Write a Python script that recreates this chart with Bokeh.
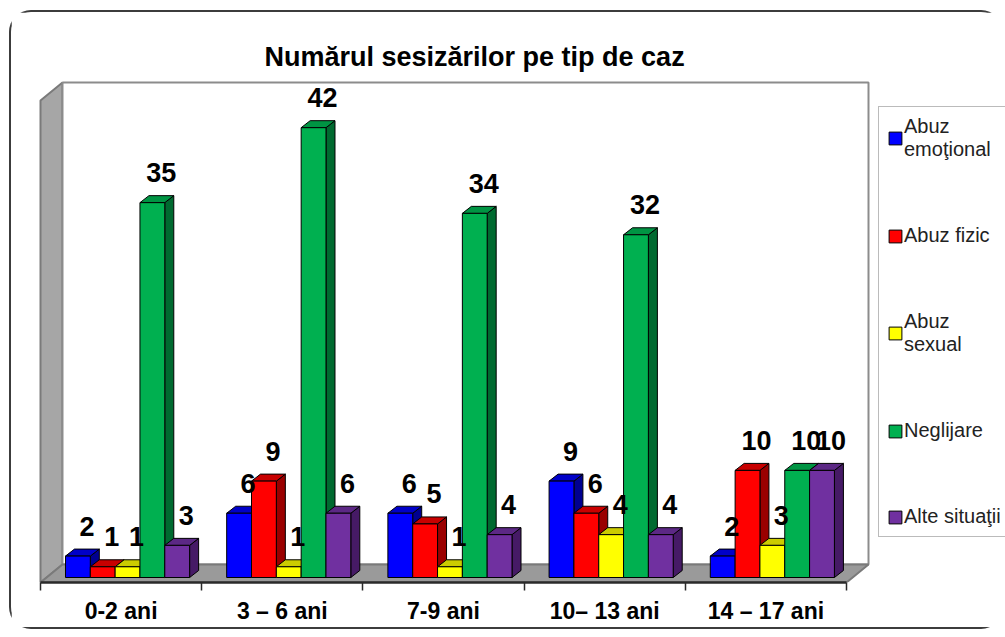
import numpy as np
from bokeh.plotting import figure
from bokeh.models import Range1d, FixedTicker, Legend, LegendItem
from bokeh.embed import file_html
from bokeh.resources import INLINE
from bokeh.core.properties import value

# ---------------- data ----------------
chart_title = "Numărul sesizărilor pe tip de caz"
groups = ["0-2 ani", "3 – 6 ani", "7-9 ani", "10– 13 ani", "14 – 17 ani"]
series_names = ["Abuz\nemoţional", "Abuz fizic", "Abuz\nsexual", "Neglijare", "Alte situaţii"]
abuz_emotional = [2, 6, 6, 9, 2]
abuz_fizic = [1, 9, 5, 6, 10]
abuz_sexual = [1, 1, 1, 4, 3]
neglijare = [35, 42, 34, 32, 10]
alte_situatii = [3, 6, 4, 4, 10]
series_values = [abuz_emotional, abuz_fizic, abuz_sexual, neglijare, alte_situatii]

# ---------------- styles ----------------
front_colors = ["#0000FF", "#FF0000", "#FFFF00", "#00B050", "#7030A0"]
top_colors = ["#0000C8", "#C80000", "#CCCC00", "#009443", "#5C2885"]
side_colors = ["#000090", "#9A0000", "#A3A300", "#006A30", "#461A66"]

PX_X = 161.2      # pixels per category unit
PX_Y = 10.71      # pixels per value unit
BAR_W = 0.154
BAR_PAD = 0.155
BDX, BDY = 9 / PX_X, 7 / PX_Y          # bar depth
WDX, WDY = 22 / PX_X, 18 / PX_Y        # wall depth
Y0 = -5 / PX_Y                         # floor front edge
AXIS_MAX = 45

FIG_W, FIG_H = 994, 619
ML, MT, MB = 27, 68, 49
X_START = -0.5 - 2 / PX_X
x_end = X_START + (FIG_W - ML) / PX_X
y_end = Y0 + (FIG_H - MT - MB) / PX_Y

p = figure(width=FIG_W, height=FIG_H,
           x_range=Range1d(X_START, x_end), y_range=Range1d(Y0, y_end),
           output_backend="svg", toolbar_location=None, y_axis_location=None,
           min_border_left=ML, min_border_right=0, min_border_top=MT, min_border_bottom=MB,
           outline_line_color=None, background_fill_color="white", border_fill_color="white")
p.styles = {"border": "2px solid #3c3c3c", "border-right": "none", "border-radius": "22px",
            "margin-left": "9px", "margin-top": "10px"}
p.grid.visible = False

# title
p.title.text = chart_title
p.title.align = "left"
p.title.text_font = "Liberation Sans"
p.title.text_font_style = "bold"
p.title.text_font_size = "27px"
p.title.text_color = "black"
p.title.offset = 226
p.title.standoff = 18

# ---------------- walls ----------------
n = len(groups)
xl, xr = -0.5, n - 0.5
wall_xs = [
    [xl, xl, xl + WDX, xl + WDX],                               # side wall
    [xl + WDX, xr + WDX, xr + WDX, xl + WDX],                   # back wall
    [xl, xl + WDX, xr + WDX, xr],                               # floor
]
wall_ys = [
    [Y0, Y0 + AXIS_MAX, Y0 + AXIS_MAX + WDY, Y0 + WDY],
    [Y0 + WDY, Y0 + WDY, Y0 + AXIS_MAX + WDY, Y0 + AXIS_MAX + WDY],
    [Y0, Y0 + WDY, Y0 + WDY, Y0],
]
p.patches(xs=wall_xs, ys=wall_ys, fill_color=["#A6A6A6", "white", "#9A9A9A"],
          line_color=["#7a7a7a", "#8c8c8c", "#7a7a7a"], line_width=2)

# ---------------- 3D bars ----------------
xs, ys, fills = [], [], []
lx, ly, lt = [], [], []
for g in range(n):
    for i, vals in enumerate(series_values):
        v = vals[g]
        x0 = g - 0.5 + BAR_PAD + i * BAR_W
        x1 = x0 + BAR_W
        xs.append([x1, x1 + BDX, x1 + BDX, x1]); ys.append([0, BDY, v + BDY, v]); fills.append(side_colors[i])
        xs.append([x0, x1, x1 + BDX, x0 + BDX]); ys.append([v, v, v + BDY, v + BDY]); fills.append(top_colors[i])
        xs.append([x0, x1, x1, x0]); ys.append([0, 0, v, v]); fills.append(front_colors[i])
        lx.append((x0 + x1) / 2); ly.append(v); lt.append(str(v))

p.patches(xs=xs, ys=ys, fill_color=fills, line_color="black", line_width=1)

p.text(x=lx, y=ly, text=lt, x_offset=9, y_offset=-30,
       text_font=value("Liberation Sans"), text_font_style="bold",
       text_font_size="27px", text_color="black",
       text_align="center", text_baseline="middle")

# ---------------- axis ----------------
ax = p.xaxis[0]
ax.ticker = FixedTicker(ticks=list(range(n)), minor_ticks=[k - 0.5 for k in range(n + 1)])
ax.major_label_overrides = {k: groups[k] for k in range(n)}
ax.bounds = (xl, xr)
ax.axis_line_width = 2.5
ax.axis_line_color = "#2a2a2a"
ax.major_tick_line_color = None
ax.major_tick_out = 0
ax.major_tick_in = 0
ax.minor_tick_out = 8
ax.minor_tick_in = 0
ax.minor_tick_line_color = "#2a2a2a"
ax.minor_tick_line_width = 1.5
ax.major_label_standoff = 7
ax.major_label_text_font = "Liberation Sans"
ax.major_label_text_font_style = "bold"
ax.major_label_text_font_size = "23px"
ax.major_label_text_color = "black"

# ---------------- legend ----------------
items = []
for i, name in enumerate(series_names):
    nan = np.array([np.nan])
    r = p.quad(left=nan, right=nan, top=nan, bottom=nan, fill_color=front_colors[i], line_color="black")
    items.append(LegendItem(label=name, renderers=[r]))
legend = Legend(items=items, location=(840, 45),
                label_text_font="Liberation Sans", label_text_font_size="20px",
                label_text_color="#222222",
                glyph_width=16, glyph_height=16, label_standoff=1,
                spacing=63, padding=8, margin=0,
                border_line_color="#777777", border_line_width=1.5,
                background_fill_color="white", background_fill_alpha=1)
p.add_layout(legend)

open("out.html", "w").write(file_html(p, INLINE))
